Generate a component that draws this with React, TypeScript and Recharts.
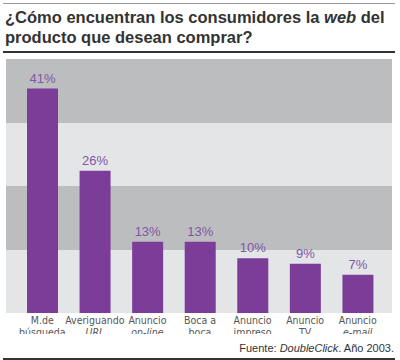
import React from 'react';
import { BarChart, Bar, XAxis, YAxis, CartesianGrid, LabelList } from 'recharts';

const labelLine1 = ['M.de', 'Averiguando', 'Anuncio', 'Boca a', 'Anuncio', 'Anuncio', 'Anuncio'];
const labelLine2 = ['búsqueda', 'URL', 'on-line', 'boca', 'impreso', 'TV', 'e-mail'];
const line2Italic = [false, true, true, false, false, false, true];
const values = [41, 26, 13, 13, 10, 9, 7];
const bandTicks = [0, 11.6, 23.2, 34.8, 46.4];

const data = labelLine1.map((l, i) => ({ name: l, line2: labelLine2[i], italic: line2Italic[i], value: values[i] }));

const Tick = (props: any) => {
  const { x, y, index } = props;
  const d = data[index];
  return (
    <g>
      <text x={x} y={y + 11} textAnchor="middle" fill="#555" fontSize={10.5} fontFamily="'Liberation Sans Narrow', 'DejaVu Sans Condensed', sans-serif">{d.name}</text>
      <text x={x} y={y + 23} textAnchor="middle" fill="#555" fontSize={10.5} fontStyle={d.italic ? 'italic' : 'normal'} fontFamily="'Liberation Sans Narrow', 'DejaVu Sans Condensed', sans-serif">{d.line2}</text>
    </g>
  );
};

export default function App() {
  return (
    <div style={{ position: 'absolute', left: 0, top: 0, width: 400, height: 360, background: '#fff', fontFamily: "'Liberation Sans', Arial, sans-serif", overflow: 'hidden' }}>
      <div style={{ position: 'absolute', left: 3, top: 3, width: 392, height: 1, background: '#999' }} />
      <div style={{ position: 'absolute', left: 5, top: 7, width: 395, fontSize: 16.5, fontWeight: 'bold', lineHeight: '20px', color: '#333', whiteSpace: 'nowrap' }}>
        ¿Cómo encuentran los consumidores la <i>web</i> del<br />producto que desean comprar?
      </div>
      <div style={{ position: 'absolute', left: 3, top: 51, width: 392, height: 1.5, background: '#333' }} />
      <div style={{ position: 'absolute', left: 0, top: 59 }}>
        <BarChart width={400} height={275} data={data} margin={{ top: 0, right: 8, bottom: 0, left: 6 }} barSize={31}>
          <CartesianGrid vertical={false} stroke="none" horizontalFill={['#bcbdbf', '#e4e5e7']} fillOpacity={1} />
          <XAxis dataKey="name" axisLine={false} tickLine={false} tickSize={0} tickMargin={0} height={21} interval={0} padding={{ left: 10, right: 8 }} tick={<Tick />} />
          <YAxis hide domain={[0, 46.4]} ticks={bandTicks} />
          <Bar dataKey="value" fill="#7b3d98" isAnimationActive={false}>
            <LabelList dataKey="value" position="top" offset={6} formatter={(v: any) => `${v}%`} fill="#8155a8" fontSize={13} fontFamily="'Liberation Sans', Arial, sans-serif" />
          </Bar>
        </BarChart>
      </div>
      <div style={{ position: 'absolute', right: 6, top: 342, fontSize: 11, color: '#333', whiteSpace: 'nowrap' }}>
        Fuente: <i>DoubleClick</i>. Año 2003.
      </div>
      <div style={{ position: 'absolute', left: 3, top: 358, width: 392, height: 1.5, background: '#333' }} />
    </div>
  );
}
